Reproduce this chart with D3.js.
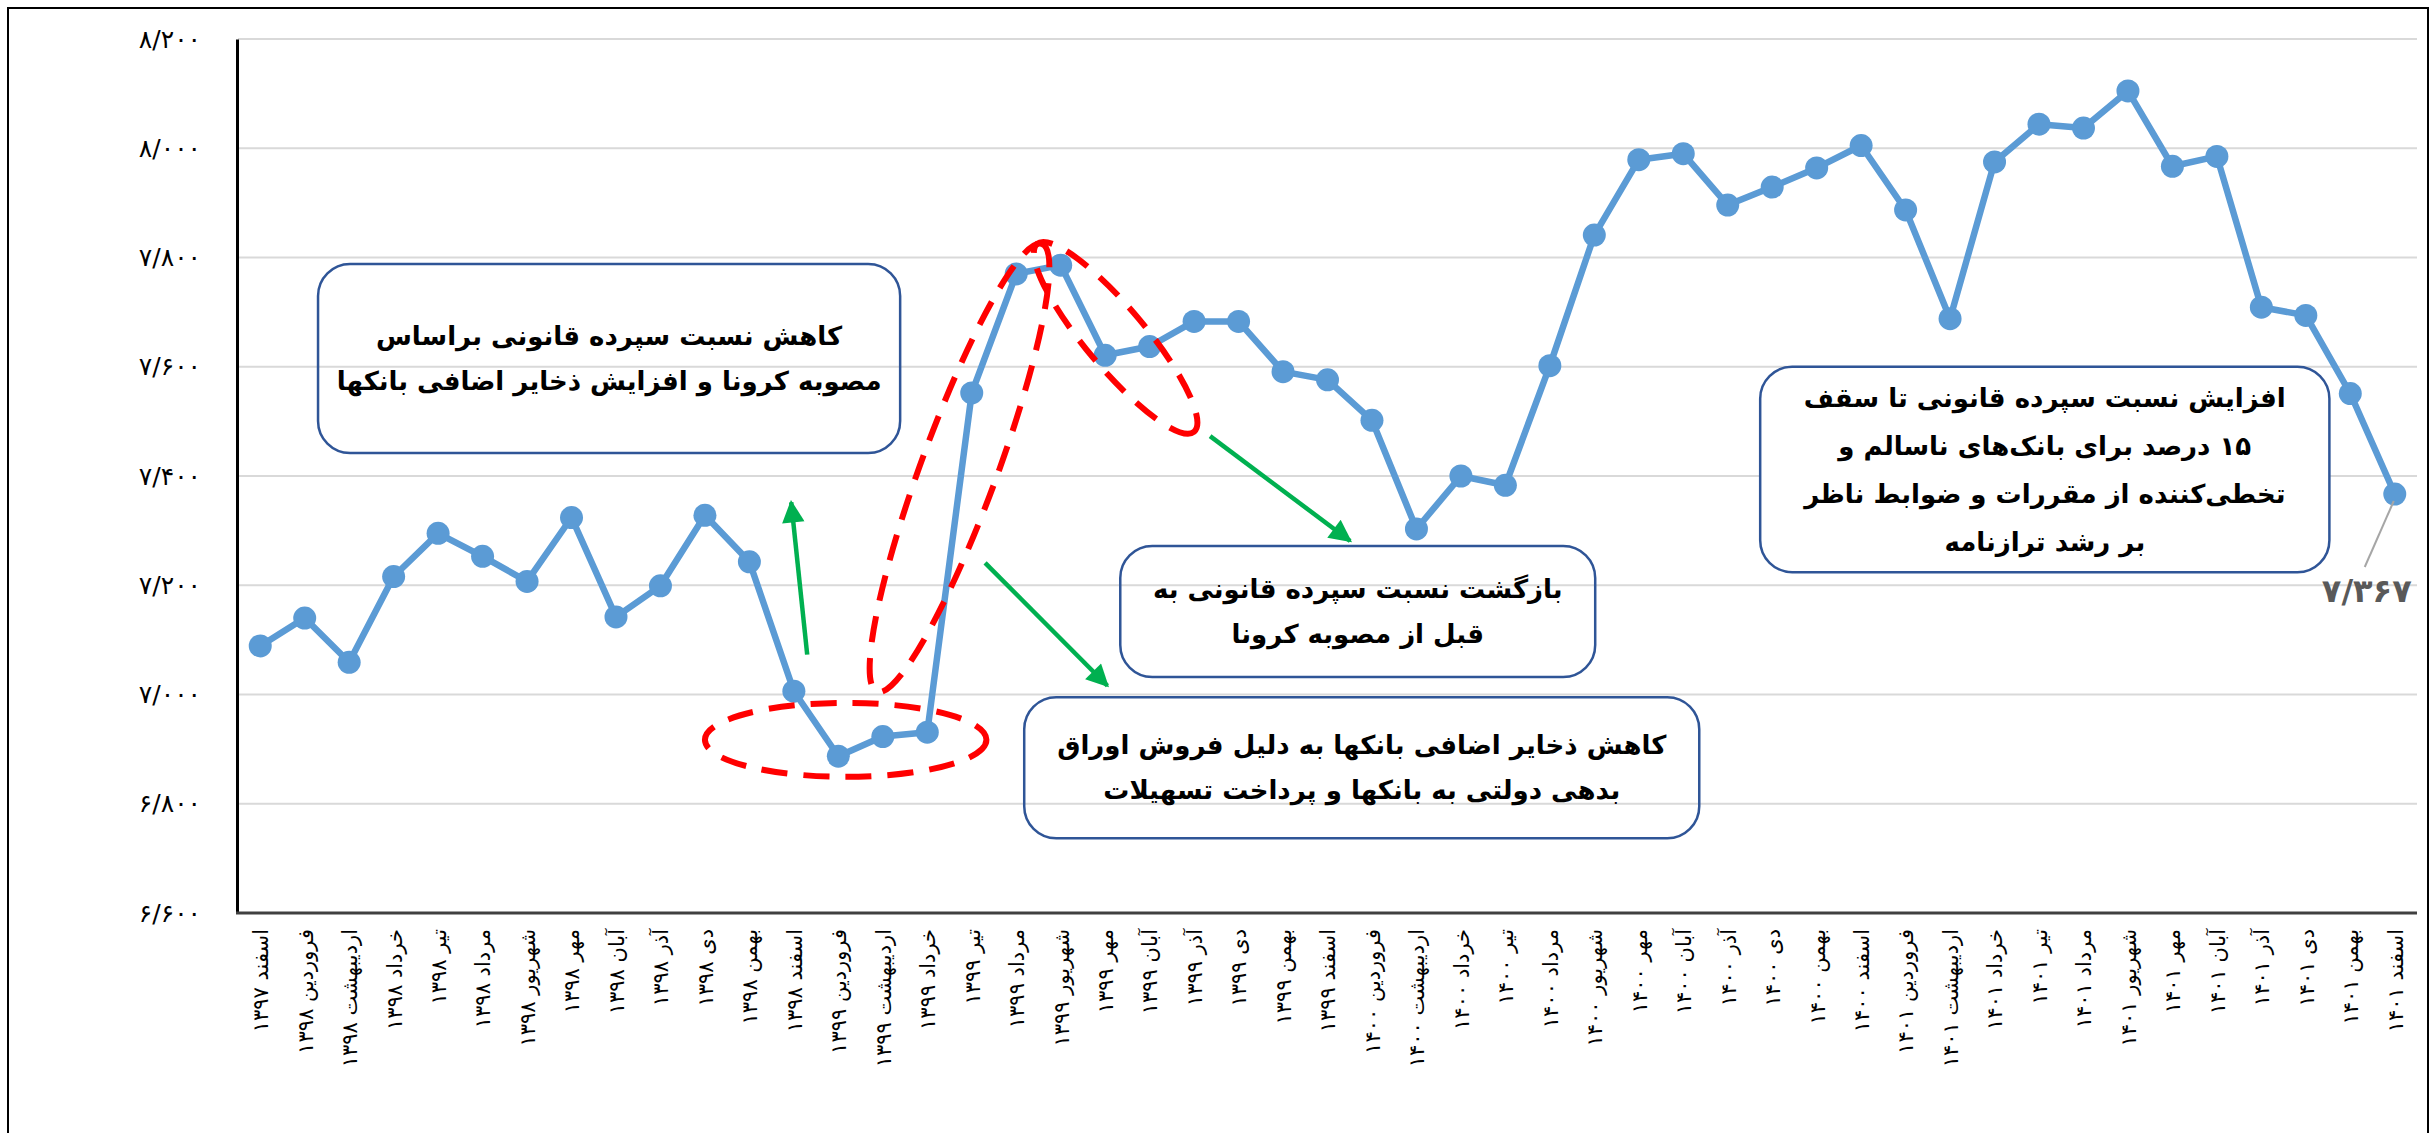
<!DOCTYPE html>
<html lang="fa">
<head>
<meta charset="utf-8">
<title>نسبت سپرده قانونی</title>
<script src="https://cdn.jsdelivr.net/npm/d3@7"></script>
<style>
body { margin: 0; background: #fff; }
text { font-family: "DejaVu Sans", sans-serif; }
</style>
</head>
<body>
<script>
var w = 2433, h = 1133;

// months (category labels), shamsi calendar
var categories = [
  "اسفند ۱۳۹۷",
  "فروردین ۱۳۹۸", "اردیبهشت ۱۳۹۸", "خرداد ۱۳۹۸", "تیر ۱۳۹۸", "مرداد ۱۳۹۸", "شهریور ۱۳۹۸",
  "مهر ۱۳۹۸", "آبان ۱۳۹۸", "آذر ۱۳۹۸", "دی ۱۳۹۸", "بهمن ۱۳۹۸", "اسفند ۱۳۹۸",
  "فروردین ۱۳۹۹", "اردیبهشت ۱۳۹۹", "خرداد ۱۳۹۹", "تیر ۱۳۹۹", "مرداد ۱۳۹۹", "شهریور ۱۳۹۹",
  "مهر ۱۳۹۹", "آبان ۱۳۹۹", "آذر ۱۳۹۹", "دی ۱۳۹۹", "بهمن ۱۳۹۹", "اسفند ۱۳۹۹",
  "فروردین ۱۴۰۰", "اردیبهشت ۱۴۰۰", "خرداد ۱۴۰۰", "تیر ۱۴۰۰", "مرداد ۱۴۰۰", "شهریور ۱۴۰۰",
  "مهر ۱۴۰۰", "آبان ۱۴۰۰", "آذر ۱۴۰۰", "دی ۱۴۰۰", "بهمن ۱۴۰۰", "اسفند ۱۴۰۰",
  "فروردین ۱۴۰۱", "اردیبهشت ۱۴۰۱", "خرداد ۱۴۰۱", "تیر ۱۴۰۱", "مرداد ۱۴۰۱", "شهریور ۱۴۰۱",
  "مهر ۱۴۰۱", "آبان ۱۴۰۱", "آذر ۱۴۰۱", "دی ۱۴۰۱", "بهمن ۱۴۰۱", "اسفند ۱۴۰۱"
];

var values = [
  7089,
  7140, 7059, 7216, 7295, 7253, 7207, 7324, 7142, 7199, 7328, 7243, 7006,
  6887, 6923, 6931, 7552, 7770, 7786, 7621, 7637, 7683, 7683, 7591, 7576,
  7502, 7303, 7400, 7383, 7602, 7841, 7979, 7990, 7896, 7929, 7964, 8005,
  7887, 7688, 7975, 8044, 8037, 8105, 7967, 7985, 7709, 7694, 7551, 7367
];

var yTicks = [6600, 6800, 7000, 7200, 7400, 7600, 7800, 8000, 8200];
var yTickLabels = ["۶/۶۰۰", "۶/۸۰۰", "۷/۰۰۰", "۷/۲۰۰", "۷/۴۰۰", "۷/۶۰۰", "۷/۸۰۰", "۸/۰۰۰", "۸/۲۰۰"];
var lastLabel = "۷/۳۶۷";

// annotation boxes: index range, value range, text lines
var boxes = [
  { i0: 1.30, i1: 14.39, v0: 7788, v1: 7442, fill: "none", gap: 45,
    lines: ["کاهش نسبت سپرده قانونی براساس", "مصوبه کرونا و افزایش ذخایر اضافی بانکها"] },
  { i0: 19.34, i1: 30.02, v0: 7272, v1: 7032, fill: "none", gap: 45,
    lines: ["بازگشت نسبت سپرده قانونی به", "قبل از مصوبه کرونا"] },
  { i0: 17.18, i1: 32.36, v0: 6995, v1: 6737, fill: "none", gap: 45,
    lines: ["کاهش ذخایر اضافی بانکها به دلیل فروش اوراق", "بدهی دولتی به بانکها و پرداخت تسهیلات"] },
  { i0: 33.73, i1: 46.53, v0: 7600, v1: 7224, fill: "#fff", gap: 48,
    lines: ["افزایش نسبت سپرده قانونی تا سقف", "۱۵ درصد برای بانک‌های ناسالم و", "تخطی‌کننده از مقررات و ضوابط ناظر", "بر رشد ترازنامه"] }
];

// red dashed ellipses: two end points (index, value) + half width
var ellipses = [
  { i1: 10.0, v1: 6917, i2: 16.33, v2: 6917, hw: 37 },
  { i1: 13.87, v1: 7005, i2: 17.58, v2: 7825, hw: 38 },
  { i1: 17.47, v1: 7825, i2: 21.0, v2: 7481, hw: 30 }
];

// green arrows: from (index, value) to (index, value)
var arrows = [
  { i1: 12.30, v1: 7073, i2: 11.94, v2: 7352 },
  { i1: 16.30, v1: 7241, i2: 19.05, v2: 7016 },
  { i1: 21.36, v1: 7473, i2: 24.51, v2: 7281 }
];

var svg = d3.select("body").append("svg")
  .attr("width", w)
  .attr("height", h);

// outer frame
svg.append("rect")
  .attr("x", 8).attr("y", 8)
  .attr("width", 2420).attr("height", 1150)
  .attr("fill", "none")
  .attr("stroke", "#000")
  .attr("stroke-width", 2);

var pLeft = 238, pRight = 2417, pTop = 39, pBottom = 913;

var x = d3.scalePoint()
  .domain(categories)
  .range([pLeft, pRight])
  .padding(0.5);

var y = d3.scaleLinear()
  .domain([6600, 8200])
  .range([pBottom, pTop]);

function xi(i) { return x(categories[0]) + i * x.step(); }

// gridlines
svg.append("g")
  .selectAll("line")
  .data(yTicks.slice(1))
  .enter()
  .append("line")
  .attr("x1", pLeft).attr("x2", pRight)
  .attr("y1", function(d) { return y(d); })
  .attr("y2", function(d) { return y(d); })
  .attr("stroke", "#d9d9d9")
  .attr("stroke-width", 2);

// y axis
var yAxis = d3.axisLeft(y)
  .tickValues(yTicks)
  .tickSize(0)
  .tickPadding(36)
  .tickFormat(function(d, i) { return yTickLabels[i]; });

var gy = svg.append("g")
  .attr("transform", "translate(" + (pLeft - 1) + ",0)")
  .call(yAxis);
gy.select(".domain").attr("stroke", "#000").attr("stroke-width", 3);
gy.selectAll("text")
  .attr("font-family", "DejaVu Sans")
  .attr("font-size", 25)
  .attr("fill", "#000");

// x axis
var xAxis = d3.axisBottom(x).tickSize(0);
var gx = svg.append("g")
  .attr("transform", "translate(0," + pBottom + ")")
  .call(xAxis);
gx.select(".domain")
  .attr("d", "M" + (pLeft - 2) + ",0H" + pRight)
  .attr("stroke", "#404040")
  .attr("stroke-width", 3);
gx.selectAll("text")
  .attr("font-family", "DejaVu Sans")
  .attr("font-size", 21)
  .attr("fill", "#000")
  .attr("transform", "rotate(-90)")
  .attr("x", -16)
  .attr("y", 0)
  .attr("dy", "0.35em")
  .style("text-anchor", "end");

// annotation boxes
boxes.forEach(function(b) {
  var bx = xi(b.i0), by = y(b.v0), bw = xi(b.i1) - xi(b.i0), bh = y(b.v1) - y(b.v0);
  svg.append("rect")
    .attr("x", bx).attr("y", by)
    .attr("width", bw).attr("height", bh)
    .attr("rx", 32).attr("ry", 32)
    .attr("fill", b.fill)
    .attr("stroke", "#2f5597")
    .attr("stroke-width", 2.5);
  var cy = by + bh / 2 - (b.lines.length - 1) * b.gap / 2;
  svg.append("g").selectAll("text")
    .data(b.lines)
    .enter()
    .append("text")
    .text(function(d) { return d; })
    .attr("x", bx + bw / 2)
    .attr("y", function(d, i) { return cy + i * b.gap; })
    .attr("dy", "0.35em")
    .attr("text-anchor", "middle")
    .attr("direction", "rtl")
    .attr("font-size", 26)
    .attr("font-weight", "bold")
    .attr("fill", "#000");
});

// series line
var line = d3.line()
  .x(function(d, i) { return x(categories[i]); })
  .y(function(d) { return y(d); });

svg.append("path")
  .datum(values)
  .attr("d", line)
  .attr("fill", "none")
  .attr("stroke", "#5b9bd5")
  .attr("stroke-width", 6.5)
  .attr("stroke-linejoin", "round");

svg.append("g").selectAll("circle")
  .data(values)
  .enter()
  .append("circle")
  .attr("cx", function(d, i) { return x(categories[i]); })
  .attr("cy", function(d) { return y(d); })
  .attr("r", 11.5)
  .attr("fill", "#5b9bd5");

// data label on last point
var lx = x(categories[categories.length - 1]), ly = y(values[values.length - 1]);
svg.append("line")
  .attr("x1", lx - 1).attr("y1", ly + 7)
  .attr("x2", lx - 30).attr("y2", ly + 73)
  .attr("stroke", "#a6a6a6")
  .attr("stroke-width", 2);
svg.append("text")
  .text(lastLabel)
  .attr("x", lx - 28)
  .attr("y", ly + 97)
  .attr("dy", "0.35em")
  .attr("text-anchor", "middle")
  .attr("font-size", 32)
  .attr("font-weight", "bold")
  .attr("fill", "#595959");

// red dashed ellipses
ellipses.forEach(function(e) {
  var x1 = xi(e.i1), y1 = y(e.v1), x2 = xi(e.i2), y2 = y(e.v2);
  var cx = (x1 + x2) / 2, cy = (y1 + y2) / 2;
  var rx = Math.sqrt((x2 - x1) * (x2 - x1) + (y2 - y1) * (y2 - y1)) / 2;
  var ang = Math.atan2(y2 - y1, x2 - x1) * 180 / Math.PI;
  svg.append("ellipse")
    .attr("cx", 0).attr("cy", 0)
    .attr("rx", rx).attr("ry", e.hw)
    .attr("transform", "translate(" + cx + "," + cy + ") rotate(" + ang + ")")
    .attr("fill", "none")
    .attr("stroke", "#ff0000")
    .attr("stroke-width", 6)
    .attr("stroke-dasharray", "26,16");
});

// green arrows
svg.append("defs").append("marker")
  .attr("id", "head")
  .attr("viewBox", "0 0 10 10")
  .attr("refX", 9).attr("refY", 5)
  .attr("markerWidth", 6).attr("markerHeight", 5)
  .attr("orient", "auto")
  .append("path")
  .attr("d", "M0,0L10,5L0,10Z")
  .attr("fill", "#00b050");

svg.append("g").selectAll("line")
  .data(arrows)
  .enter()
  .append("line")
  .attr("x1", function(d) { return xi(d.i1); })
  .attr("y1", function(d) { return y(d.v1); })
  .attr("x2", function(d) { return xi(d.i2); })
  .attr("y2", function(d) { return y(d.v2); })
  .attr("stroke", "#00b050")
  .attr("stroke-width", 4.5)
  .attr("marker-end", "url(#head)");
</script>
</body>
</html>
